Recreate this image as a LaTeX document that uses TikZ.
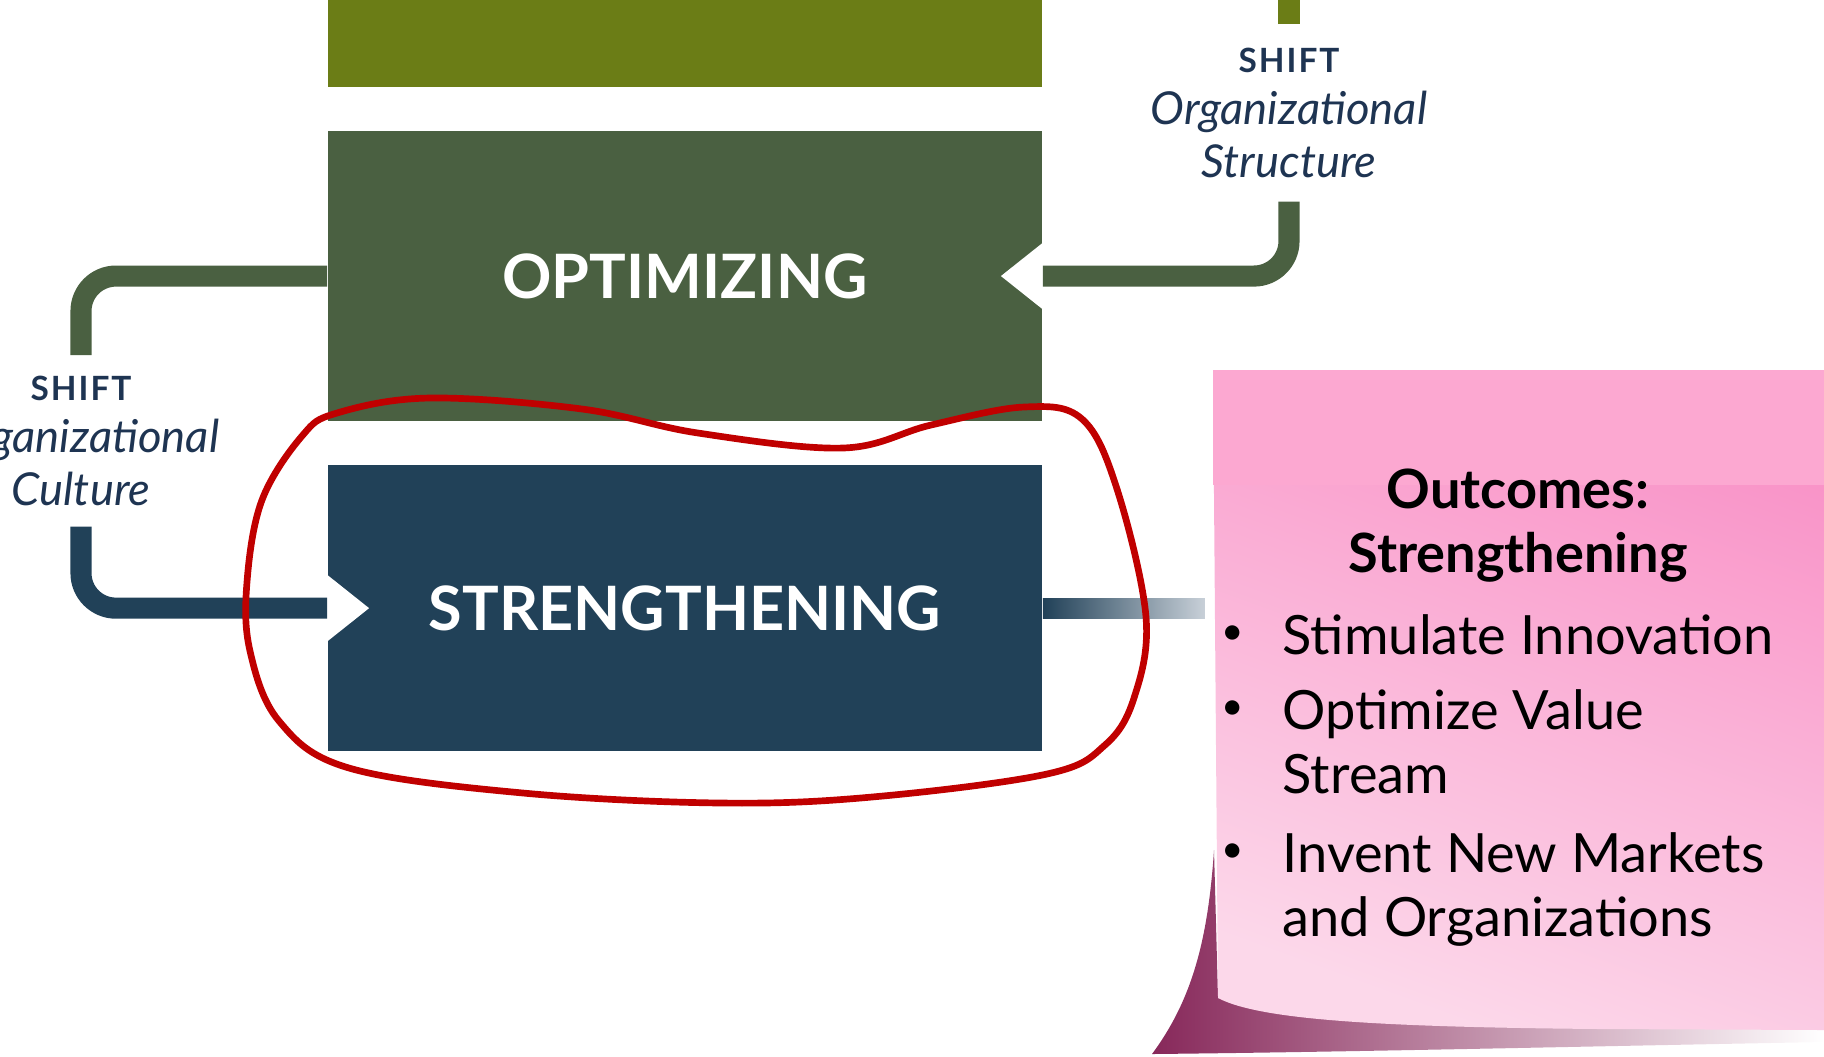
\documentclass[tikz,border=0pt]{standalone}
\usepackage{fontspec}
\setmainfont{Lato}
\newfontfamily\spacedfont[LetterSpace=6]{Lato}
\usetikzlibrary{calc,positioning}

\definecolor{olivebar}{RGB}{107,125,22}
\definecolor{optgreen}{RGB}{74,96,65}
\definecolor{strnavy}{RGB}{33,65,88}
\definecolor{labelnavy}{RGB}{30,52,82}
\definecolor{loopred}{RGB}{192,0,0}
\definecolor{notepink}{RGB}{249,146,199}
\definecolor{notelight}{RGB}{252,216,234}
\definecolor{notetop}{RGB}{252,168,209}
\definecolor{shadowdark}{RGB}{135,40,90}
\definecolor{fadegray}{RGB}{200,208,216}

\tikzset{
  stagebox/.style={minimum width=7.14cm, inner sep=0pt, text=white,
    font=\fontsize{17.4}{20}\selectfont\bfseries},
  conn/.style={line width=6pt, rounded corners=0.35cm},
  shiftlabel/.style={align=center, text=labelnavy, inner xsep=0pt, inner ysep=0.2cm,
    font=\fontsize{12.9}{15}\selectfont\itshape},
  notetext/.style={font=\fontsize{15.4}{18.2}\selectfont, text=black, inner sep=0pt},
}
\newcommand{\shiftword}{{\spacedfont\upshape\bfseries\fontsize{9.5}{15}\selectfont SHIFT}}

\begin{document}
\begin{tikzpicture}[x=0.01cm, y=-0.01cm]
  \useasboundingbox (0,0) rectangle (1824,1056);
  \clip (0,0) rectangle (1824,1056);

  % stages
  \node[stagebox, fill=olivebar, minimum height=0.87cm] (top) at (685,43.5) {};
  \node[stagebox, fill=optgreen, minimum height=2.89cm, below=0.43cm of top] (opt) {OPTIMIZING};
  \node[stagebox, fill=strnavy, minimum height=2.86cm, below=0.43cm of opt] (str) {STRENGTHENING};

  % notches
  \fill[white] ($(opt.east)+(2,-35)$) -- ($(opt.east)+(-42,0)$) -- ($(opt.east)+(2,35)$) -- cycle;
  \fill[white] ($(str.west)+(-2,-35)$) -- ($(str.west)+(42,0)$) -- ($(str.west)+(-2,35)$) -- cycle;

  % shift labels
  \node[shiftlabel, anchor=north] (culture) at (81,355) {\shiftword\\Organizational\\Culture};
  \node[shiftlabel, anchor=north, inner ysep=0.23cm] (struct) at (1289,24) {\shiftword\\Organizational\\Structure};

  \draw[conn, optgreen] (opt.west) -| (culture.north);
  \draw[conn, strnavy] (culture.south) |- (str.west);
  \draw[conn, optgreen] (struct.south) |- (opt.east);
  \draw[conn, olivebar] (struct.north) -- ++(0,-40);

  % link to the note
  \shade[left color=strnavy, right color=fadegray] ($(str.east)+(0,-10)$) rectangle ($(str.east)+(162,10)$);

  % sticky note
  \shade[left color=shadowdark, right color=white]
    (1214,850) .. controls (1208,940) and (1192,1000) .. (1152,1054)
    .. controls (1350,1052) and (1600,1046) .. (1824,1042)
    -- (1824,1030) -- (1218,998) -- cycle;
  \shade[top color=notepink, bottom color=notelight, shading angle=-20]
    (1213,370) -- (1824,370) -- (1824,1030) -- (1600,1029)
    .. controls (1380,1027) and (1260,1020) .. (1218,998) -- cycle;
  \fill[notetop] (1213,370) rectangle (1824,485);

  \node[notetext, font=\fontsize{15.4}{18.2}\selectfont\bfseries, align=center, anchor=north]
    (title) at (1518,468) {Outcomes:\\Strengthening};
  \foreach \itm/\yy [count=\k] in {{Stimulate Innovation}/654,
      {Optimize Value\\Stream}/729, {Invent New Markets\\and Organizations}/872} {
    \node[notetext, font=\fontsize{11}{12}\selectfont] (bullet\k) at (1233,\yy-19) {\textbullet};
    \node[notetext, anchor=base west] (item\k) at (1282,\yy) {\parbox[t]{5.3cm}{\itm}};
  }

  % red loop
  \draw[loopred, line width=1.9pt] plot[smooth cycle, tension=0.6] coordinates {
    (337,413) (430,398) (582,409) (698,433) (843,448) (931,425) (1024,407)
    (1082,419) (1117,489) (1146,617) (1134,698) (1105,745) (1047,774)
    (872,797) (721,803) (523,793) (349,768) (279,721) (250,651) (247,582)
    (262,500) (302,436)};
\end{tikzpicture}
\end{document}
